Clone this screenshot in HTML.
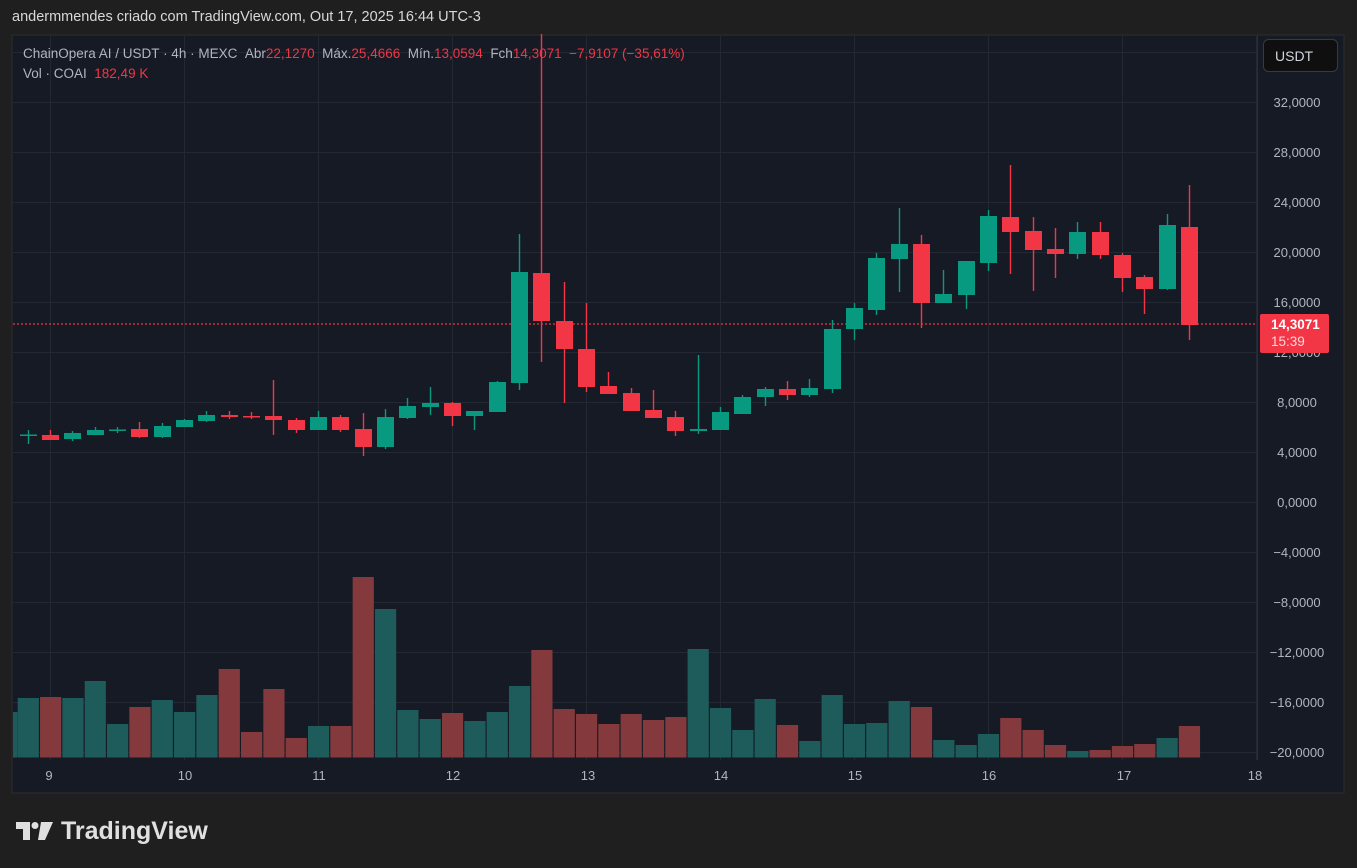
<!DOCTYPE html>
<html><head><meta charset="utf-8"><style>
html,body{margin:0;padding:0;background:#1f1f1f;width:1357px;height:868px;overflow:hidden;font-family:"Liberation Sans",sans-serif}
.t{position:absolute;white-space:nowrap}
</style></head><body>
<div class="t" style="left:12px;top:9px;font-size:14.5px;color:#d8d8d8">andermmendes criado com TradingView.com, Out 17, 2025 16:44 UTC-3</div>
<svg width="1357" height="868" style="position:absolute;left:0;top:0" id="s">
<rect x="12" y="35" width="1332" height="758" fill="#161a25" stroke="#2e2e2e" stroke-width="1"/>
<g id="grid" stroke="#242833" stroke-width="1"></g>
<line x1="1257.5" y1="35" x2="1257.5" y2="760" stroke="#2a2e39"/>
<g id="vol"></g>
<line x1="13" y1="324" x2="1257" y2="324" stroke="#f23645" stroke-width="1.2" stroke-dasharray="2,2"/>
<g id="cdl"></g>
<g font-family="Liberation Sans, sans-serif" font-size="13" fill="#b2b5be" text-anchor="middle" id="ylab"></g>
<g font-family="Liberation Sans, sans-serif" font-size="13" fill="#b2b5be" text-anchor="middle">
<text x="49" y="780">9</text><text x="185" y="780">10</text><text x="319" y="780">11</text><text x="453" y="780">12</text><text x="588" y="780">13</text><text x="721" y="780">14</text><text x="855" y="780">15</text><text x="989" y="780">16</text><text x="1124" y="780">17</text><text x="1255" y="780">18</text>
</g>
<rect x="1263.5" y="39.5" width="74" height="32" rx="5" fill="#0f0f0f" stroke="#3a3a3a"/>
<text x="1275" y="61" font-family="Liberation Sans, sans-serif" font-size="14" fill="#d1d4dc">USDT</text>
<g fill="#e0e0e0">
<path d="M16 822h14v18h-7v-11h-7z"/><circle cx="35" cy="825.5" r="3.5"/><path d="M41 822h12l-8 18h-7z"/>
</g>
<text x="61" y="839" font-family="Liberation Sans, sans-serif" font-size="25" font-weight="bold" fill="#e0e0e0">TradingView</text>
</svg>
<div class="t" style="left:23px;top:46px;font-size:13.5px;color:#b2b5be">ChainOpera AI / USDT · 4h · MEXC &nbsp;Abr<span style="color:#f23645">22,1270</span>&nbsp; Máx.<span style="color:#f23645">25,4666</span>&nbsp; Mín.<span style="color:#f23645">13,0594</span>&nbsp; Fch<span style="color:#f23645">14,3071 &nbsp;−7,9107 (−35,61%)</span></div>
<div class="t" style="left:23px;top:66px;font-size:13.5px;color:#b2b5be">Vol · COAI &nbsp;<span style="color:#f23645">182,49 K</span></div>
<script>
var NS="http://www.w3.org/2000/svg";
function el(p,n,a){var e=document.createElementNS(NS,n);for(var k in a)e.setAttribute(k,a[k]);p.appendChild(e);return e;}
var g=document.getElementById('grid');
for(var v=36;v>=-20;v-=4){var y=502-12.5*v;if(y<36)continue;el(g,'line',{x1:13,x2:1257,y1:y+.5,y2:y+.5});}
for(var k=0;k<10;k++){var x=Math.round(50.3+134*k)+.5;if(x>1257)break;el(g,'line',{x1:x,x2:x,y1:36,y2:760});}
var yl=document.getElementById('ylab');
for(var v=32;v>=-20;v-=4){var y=502-12.5*v;var s=(v<0?'−':'')+Math.abs(v)+',0000';var t=el(yl,'text',{x:1297,y:y+5});t.textContent=s;}
var C=[[434.5,436,430,444,1],[435,440,430,440,0],[433,439,431,441,1],[430,435,427,435,1],[429.5,431,427,433,1],[429,437,422,438,0],[426,437,423,438,1],[420,427,419,427,1],[415,421,411,422,1],[415,417,411,419,0],[416,417.5,412,419,0],[416,420,380,435,0],[420,430,418,433,0],[417,430,411,430,1],[417,430,415,432,0],[429,447,413,456,0],[417,447,409,449,1],[406,418,398,419,1],[403,407,387,415,1],[403,416,402,426,0],[411,416,411,430,1],[382,412,381,412,1],[272,383,234,390,1],[273,321,34,362,0],[321,349,282,403,0],[349,387,303,392,0],[386,394,372,394,0],[393,411,388,411,0],[410,418,390,418,0],[417,431,411,436,0],[429,431,355,434,1],[412,430,407,430,1],[397,414,395,414,1],[389,397,387,406,1],[389,395,381,400,0],[388,395,379,397,1],[329,389,320,393,1],[308,329,303,340,1],[258,310,253,315,1],[244,259,208,292,1],[244,303,235,328,0],[294,303,270,303,1],[261,295,261,309,1],[216,263,210,271,1],[217,232,165,274,0],[231,250,217,291,0],[249,254,228,278,0],[232,254,222,259,1],[232,255,222,259,0],[255,278,253,292,0],[277,289,275,314,0],[225,289,214,290,1],[227,325,185,340,0]];
var V=[698,697,698,681,724,707,700,712,695,669,732,689,738,726,726,577,609,710,719,713,721,712,686,650,709,714,724,714,720,717,649,708,730,699,725,741,695,724,723,701,707,740,745,734,718,730,745,751,750,746,744,738,726];
var cg=document.getElementById('cdl'),vg=document.getElementById('vol');
el(vg,'rect',{x:13,y:712,width:4.5,height:45.5,fill:'#1e5c5c'});
for(var i=0;i<C.length;i++){var x=28.3+22.33*i,c=C[i],col=c[4]?'#089981':'#f23645';
var bx=Math.round(x-8.5);
el(cg,'line',{x1:bx+8.5,x2:bx+8.5,y1:c[2],y2:c[3],stroke:col,'stroke-width':1.4});
el(cg,'rect',{x:bx,y:c[0],width:17,height:Math.max(1.5,c[1]-c[0]),fill:col});
el(vg,'rect',{x:x-10.6,y:V[i],width:21.2,height:757.5-V[i],fill:c[4]?'#1e5c5c':'#843a3d'});}
</script>
<svg width="1357" height="868" style="position:absolute;left:0;top:0;pointer-events:none">
<rect x="1260" y="314" width="69" height="39" rx="2" fill="#f23645"/>
<text x="1271" y="329" font-family="Liberation Sans, sans-serif" font-size="13.5" font-weight="bold" fill="#fff">14,3071</text>
<text x="1271" y="346" font-family="Liberation Sans, sans-serif" font-size="13.5" fill="#ffd6d9">15:39</text>
</svg>
</body></html>
